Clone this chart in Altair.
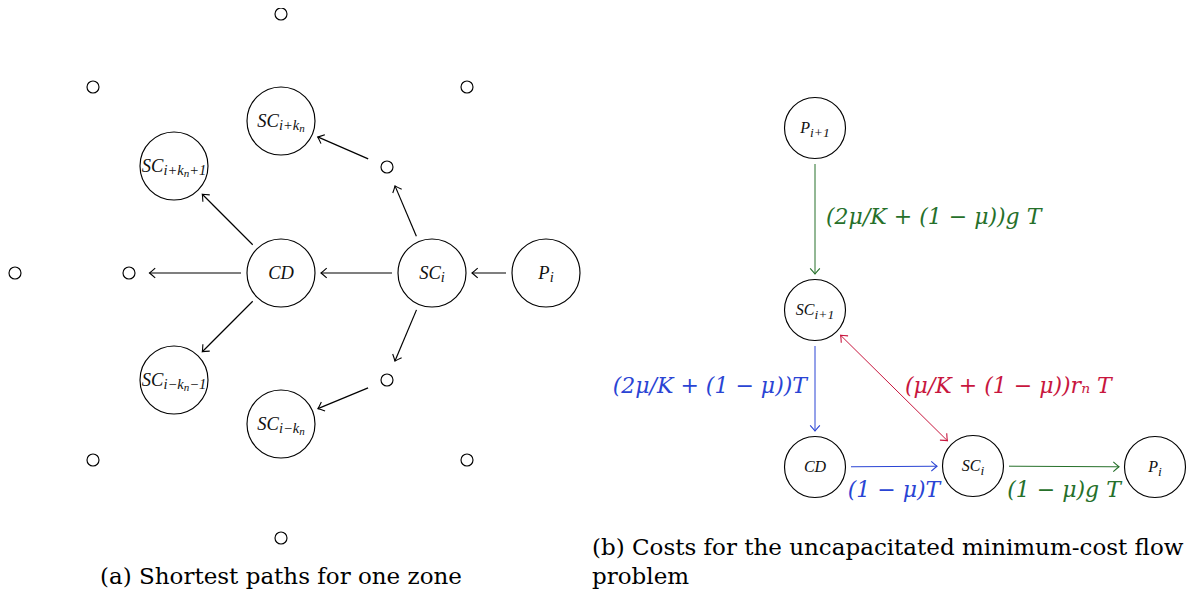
import math
import altair as alt
import pandas as pd

# ---------------- data ----------------
# panel (a): nodes (pixel positions)
a_id    = ["Pi", "SCi", "CD", "SCp", "SCp1", "SCm", "SCm1", "ne", "se", "w",
           "o_n", "o_ne", "o_nw", "o_w", "o_sw", "o_s", "o_se"]
a_label = ["P_{i}", "SC_{i}", "CD", "SC_{i+k_{n}}", "SC_{i+k_{n}+1}", "SC_{i−k_{n}}",
           "SC_{i−k_{n}−1}", "", "", "", "", "", "", "", "", "", ""]
a_x     = [546, 432, 281, 281, 174, 281, 174, 387, 387, 129,
           281, 467, 93, 15, 93, 281, 467]
a_y     = [273, 273, 273, 121, 166, 424, 380, 167, 380, 273,
           14, 87, 87, 273, 460, 538, 460]
a_kind  = ["big"] * 7 + ["small"] * 10

# panel (a): edges (source -> target)
a_src = ["Pi", "SCi", "CD", "CD", "CD", "SCi", "SCi", "ne", "se"]
a_dst = ["SCi", "CD", "w", "SCp1", "SCm1", "ne", "se", "SCp", "SCm"]

# panel (b): nodes
b_id    = ["Pi1", "SCi1", "CDb", "SCib", "Pib"]
b_label = ["P_{i+1}", "SC_{i+1}", "CD", "SC_{i}", "P_{i}"]
b_x     = [815, 815, 815, 973, 1155]
b_y     = [128, 310, 467, 466, 467]

# panel (b): edges with costs
b_src   = ["Pi1", "SCi1", "SCib", "CDb", "SCib"]
b_dst   = ["SCi1", "CDb", "SCi1", "SCib", "Pib"]
b_both  = [False, False, True, False, False]
b_cost  = ["(2μ/K + (1 − μ))g T", "(2μ/K + (1 − μ))T", "(μ/K + (1 − μ))rₙ T",
           "(1 − μ)T", "(1 − μ)g T"]
b_side  = ["right", "left", "right", "below", "below"]
b_color = ["green", "blue", "red", "blue", "green"]

captions = ["(a) Shortest paths for one zone",
            "(b) Costs for the uncapacitated minimum-cost flow",
            "problem"]

# ---------------- styling / layout ----------------
W, H = 1184, 583
X0, Y0 = 8, 8
NODE_FONT = "Liberation Serif"
TEXT_FONT = "DejaVu Serif"
PALETTE = {"green": "#26702a", "blue": "#2a44d4", "red": "#c8163e", "black": "#000000"}
R_DRAWN = {"a_big": 34, "a_small": 6, "b_big": 30.5}
R_EFF = {"a_big": 40, "a_small": 20.5, "b_big": 36}
LEVEL_SIZE = {"a": [18.5, 14.5, 11], "b": [16, 13.5, 10]}
LEVEL_DY = [0, 5, 8]
# Times-italic advance widths (em)
GW = {"S": 0.5, "C": 0.667, "D": 0.722, "P": 0.611, "i": 0.278, "k": 0.444,
      "n": 0.5, "+": 0.675, "−": 0.675, "1": 0.5}

xs = alt.Scale(domain=[X0, X0 + W], nice=False, zero=False)
ys = alt.Scale(domain=[Y0, Y0 + H], nice=False, zero=False, reverse=True)


def parse(s, level=0):
    """tiny TeX-like parser: returns list of (text, level)."""
    out, buf, i = [], "", 0
    while i < len(s):
        c = s[i]
        if c == "_" and i + 1 < len(s) and s[i + 1] == "{":
            if buf:
                out.append((buf, level)); buf = ""
            depth, j = 1, i + 2
            while depth:
                if s[j] == "{": depth += 1
                elif s[j] == "}": depth -= 1
                j += 1
            out += parse(s[i + 2:j - 1], level + 1)
            i = j
            continue
        buf += c
        i += 1
    if buf:
        out.append((buf, level))
    return out


nodes, segs = [], []
def add_node(nid, x, y, key, label, panel):
    nodes.append(dict(id=nid, x=x, y=y, key=key, size=(2 * R_DRAWN[key]) ** 2))
    if not label:
        return
    parts = parse(label)
    sizes = LEVEL_SIZE[panel]
    widths = [sum(GW.get(c, 0.5) for c in t) * sizes[lv] for t, lv in parts]
    cur = x - sum(widths) / 2.0
    for (t, lv), w in zip(parts, widths):
        segs.append(dict(x=cur, y=y + LEVEL_DY[lv], text=t, fs=sizes[lv]))
        cur += w

for i, n in enumerate(a_id):
    add_node(n, a_x[i], a_y[i], "a_" + a_kind[i], a_label[i], "a")
for i, n in enumerate(b_id):
    add_node(n, b_x[i], b_y[i], "b_big", b_label[i], "b")
nodes_df = pd.DataFrame(nodes)
segs_df = pd.DataFrame(segs)
lookup = {nd["id"]: nd for nd in nodes}


def seg(s, t):
    p, q = lookup[s], lookup[t]
    dx, dy = q["x"] - p["x"], q["y"] - p["y"]
    L = math.hypot(dx, dy)
    ux, uy = dx / L, dy / L
    rp, rq = R_EFF[p["key"]], R_EFF[q["key"]]
    return (p["x"] + ux * rp, p["y"] + uy * rp, q["x"] - ux * rq, q["y"] - uy * rq,
            (math.degrees(math.atan2(uy, ux)) + 360) % 360)


edges, heads, labels = [], [], []
for s, t in zip(a_src, a_dst):
    x1, y1, x2, y2, ang = seg(s, t)
    edges.append(dict(x=x1, y=y1, x2=x2, y2=y2, color=PALETTE["black"], w=1.2))
    heads.append(dict(x=x2, y=y2, angle=ang, color=PALETTE["black"]))
for i, (s, t) in enumerate(zip(b_src, b_dst)):
    x1, y1, x2, y2, ang = seg(s, t)
    col = PALETTE[b_color[i]]
    edges.append(dict(x=x1, y=y1, x2=x2, y2=y2, color=col, w=1.0))
    heads.append(dict(x=x2, y=y2, angle=ang, color=col))
    if b_both[i]:
        heads.append(dict(x=x1, y=y1, angle=(ang + 180) % 360, color=col))
    mx, my = (x1 + x2) / 2, (y1 + y2) / 2
    if b_side[i] == "right":
        labels.append(dict(x=mx + 11, y=my - 2, text=b_cost[i], color=col, align="left"))
    elif b_side[i] == "left":
        labels.append(dict(x=mx - 8, y=my - 3, text=b_cost[i], color=col, align="right"))
    else:
        labels.append(dict(x=mx, y=my + 23, text=b_cost[i], color=col, align="center"))
edges_df = pd.DataFrame(edges)
heads_df = pd.DataFrame(heads)
labels_df = pd.DataFrame(labels)

cap_df = pd.DataFrame([
    dict(x=281, y=577, text=captions[0], align="center"),
    dict(x=592, y=548, text=captions[1], align="left"),
    dict(x=592, y=577, text=captions[2], align="left"),
])

X = lambda f="x": alt.X(f"{f}:Q", scale=xs, axis=None)
Y = lambda f="y": alt.Y(f"{f}:Q", scale=ys, axis=None)

circles = alt.Chart(nodes_df).mark_point(shape="circle", filled=False, stroke="black",
                                          strokeWidth=1.15, opacity=1).encode(
    x=X(), y=Y(), size=alt.Size("size:Q", scale=None))

lines_black = alt.Chart(edges_df).transform_filter("datum.w > 1.1").mark_rule(
    strokeWidth=1.2).encode(
    x=X(), y=Y(), x2="x2:Q", y2="y2:Q", color=alt.Color("color:N", scale=None))
lines_col = alt.Chart(edges_df).transform_filter("datum.w <= 1.1").mark_rule(
    strokeWidth=1.0).encode(
    x=X(), y=Y(), x2="x2:Q", y2="y2:Q", color=alt.Color("color:N", scale=None))

ARROW = "M-1,-0.85 Q-0.35,-0.25 0,0 Q-0.35,0.25 -1,0.85"
arrowheads = alt.Chart(heads_df).mark_point(shape=ARROW, filled=False, strokeWidth=1.1,
                                             opacity=1, size=130).encode(
    x=X(), y=Y(), angle=alt.Angle("angle:Q", scale=None),
    color=alt.Color("color:N", scale=None))

node_txt = alt.Chart(segs_df).mark_text(align="left", baseline="middle", font=NODE_FONT,
                                        fontStyle="italic", color="#111111").encode(
    x=X(), y=Y(), text="text:N", size=alt.Size("fs:Q", scale=None))

def cost_layer(al):
    return alt.Chart(labels_df).transform_filter(f"datum.align == '{al}'").mark_text(
        align=al, baseline="middle", font=TEXT_FONT, fontStyle="italic", fontSize=22).encode(
        x=X(), y=Y(), text="text:N", color=alt.Color("color:N", scale=None))

def cap_layer(al):
    return alt.Chart(cap_df).transform_filter(f"datum.align == '{al}'").mark_text(
        align=al, baseline="middle", font=TEXT_FONT, fontSize=23, color="black").encode(
        x=X(), y=Y(), text="text:N")

chart = alt.layer(
    lines_black, lines_col, arrowheads, circles, node_txt,
    cost_layer("left"), cost_layer("right"), cost_layer("center"),
    cap_layer("left"), cap_layer("center"),
).properties(
    width=W, height=H, autosize=alt.AutoSizeParams(type="none"), padding=0,
    background="white",
).configure_view(stroke=None)

chart.save("out.html", embed_options={"renderer": "svg", "actions": False})
